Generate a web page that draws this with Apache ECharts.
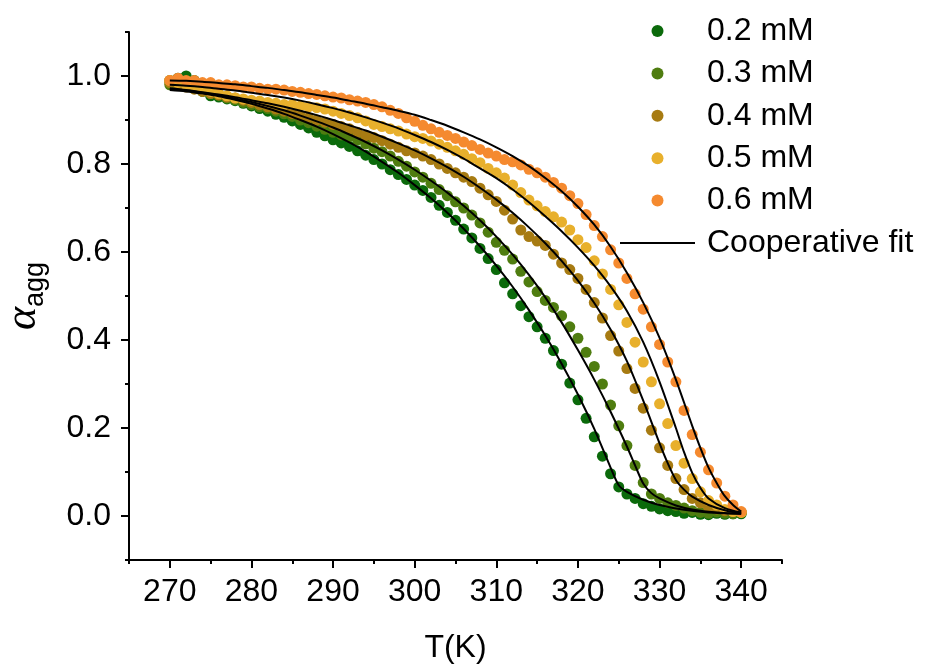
<!DOCTYPE html>
<html>
<head>
<meta charset="utf-8">
<script src="https://cdn.jsdelivr.net/npm/echarts@6.0.0/dist/echarts.min.js"></script>
<style>
  html, body { margin: 0; padding: 0; background: #fff; }
  #chart { width: 934px; height: 664px; }
</style>
</head>
<body>
<div id="chart"></div>
<script>
// temperatures (K) of the measured points
var temps = [
  270, 271, 272, 273, 274, 275, 276, 277, 278, 279,
  280, 281, 282, 283, 284, 285, 286, 287, 288, 289,
  290, 291, 292, 293, 294, 295, 296, 297, 298, 299,
  300, 301, 302, 303, 304, 305, 306, 307, 308, 309,
  310, 311, 312, 313, 314, 315, 316, 317, 318, 319,
  320, 321, 322, 323, 324, 325, 326, 327, 328, 329,
  330, 331, 332, 333, 334, 335, 336, 337, 338, 339,
  340
];

// alpha_agg, one array per concentration
var a02 = [
  0.990, 0.995, 1.000, 0.990, 0.965, 0.955, 0.952, 0.948, 0.944, 0.938,
  0.932, 0.926, 0.920, 0.913, 0.906, 0.898, 0.890, 0.882, 0.872, 0.864,
  0.855, 0.848, 0.840, 0.830, 0.820, 0.810, 0.800, 0.787, 0.776, 0.765,
  0.752, 0.740, 0.724, 0.706, 0.690, 0.672, 0.652, 0.632, 0.608, 0.585,
  0.560, 0.530, 0.505, 0.478, 0.453, 0.430, 0.404, 0.376, 0.345, 0.302,
  0.264, 0.222, 0.180, 0.136, 0.096, 0.066, 0.050, 0.040, 0.028, 0.022,
  0.016, 0.012, 0.010, 0.006, 0.008, 0.004, 0.003, 0.006, 0.004, 0.005,
  0.005
];
var a03 = [
  0.980, 0.990, 0.985, 0.975, 0.966, 0.960, 0.956, 0.950, 0.946, 0.940,
  0.935, 0.930, 0.926, 0.920, 0.914, 0.908, 0.900, 0.894, 0.886, 0.879,
  0.872, 0.866, 0.862, 0.855, 0.846, 0.836, 0.828, 0.818, 0.806, 0.795,
  0.782, 0.770, 0.756, 0.742, 0.728, 0.714, 0.700, 0.684, 0.666, 0.645,
  0.622, 0.604, 0.584, 0.556, 0.532, 0.510, 0.490, 0.474, 0.455, 0.430,
  0.404, 0.372, 0.340, 0.300, 0.252, 0.205, 0.160, 0.115, 0.076, 0.050,
  0.040, 0.030, 0.024, 0.018, 0.012, 0.008, 0.006, 0.009, 0.006, 0.005,
  0.008
];
var a04 = [
  0.985, 0.980, 0.975, 0.970, 0.965, 0.960, 0.957, 0.952, 0.950, 0.945,
  0.940, 0.935, 0.930, 0.925, 0.920, 0.915, 0.910, 0.905, 0.900, 0.895,
  0.890, 0.885, 0.880, 0.872, 0.865, 0.860, 0.853, 0.845, 0.838, 0.830,
  0.825, 0.818, 0.810, 0.800, 0.790, 0.780, 0.770, 0.760, 0.745, 0.730,
  0.715, 0.695, 0.675, 0.650, 0.635, 0.625, 0.615, 0.595, 0.575, 0.560,
  0.540, 0.515, 0.485, 0.450, 0.410, 0.375, 0.335, 0.290, 0.245, 0.195,
  0.155, 0.115, 0.085, 0.060, 0.040, 0.030, 0.020, 0.016, 0.012, 0.010,
  0.008
];
var a05 = [
  0.990, 0.985, 0.980, 0.975, 0.970, 0.965, 0.960, 0.955, 0.950, 0.948,
  0.945, 0.943, 0.940, 0.938, 0.935, 0.935, 0.932, 0.930, 0.928, 0.925,
  0.920, 0.915, 0.910, 0.905, 0.898, 0.890, 0.885, 0.880, 0.875, 0.868,
  0.862, 0.858, 0.852, 0.845, 0.838, 0.830, 0.822, 0.812, 0.803, 0.790,
  0.780, 0.768, 0.752, 0.735, 0.718, 0.705, 0.692, 0.680, 0.668, 0.650,
  0.628, 0.610, 0.580, 0.550, 0.515, 0.480, 0.440, 0.395, 0.350, 0.305,
  0.255, 0.210, 0.160, 0.120, 0.085, 0.055, 0.035, 0.025, 0.015, 0.010,
  0.008
];
var a06 = [
  0.990, 0.995, 0.990, 0.990, 0.985, 0.985, 0.980, 0.980, 0.978, 0.975,
  0.975, 0.972, 0.970, 0.970, 0.968, 0.965, 0.963, 0.960, 0.958, 0.955,
  0.952, 0.950, 0.946, 0.943, 0.940, 0.935, 0.930, 0.922, 0.915, 0.905,
  0.897, 0.888, 0.880, 0.872, 0.865, 0.858, 0.850, 0.842, 0.833, 0.825,
  0.818, 0.810, 0.805, 0.798, 0.788, 0.780, 0.770, 0.758, 0.745, 0.728,
  0.710, 0.685, 0.660, 0.635, 0.605, 0.575, 0.540, 0.505, 0.470, 0.430,
  0.390, 0.350, 0.305, 0.240, 0.185, 0.145, 0.105, 0.075, 0.045, 0.025,
  0.010
];

// cooperative fit curves
var fitT02 = [270, 272, 274, 276, 278, 280, 282, 284, 286, 288, 290, 292, 294, 296, 298, 300, 302, 304, 306, 308,
              310, 312, 314, 316, 318, 320, 322, 324, 325, 326, 328, 330, 333, 336, 340];
var fit02  = [0.968, 0.965, 0.960, 0.954, 0.946, 0.937, 0.926, 0.914, 0.900, 0.885, 0.868, 0.849, 0.828, 0.805, 0.780,
              0.752, 0.722, 0.689, 0.653, 0.613, 0.569, 0.521, 0.468, 0.410, 0.346, 0.276, 0.198, 0.110, 0.070, 0.055,
              0.037, 0.025, 0.014, 0.008, 0.005];
var fitT03 = [270, 272, 274, 276, 278, 280, 282, 284, 286, 288, 290, 292, 294, 296, 298, 300, 302, 304, 306, 308,
              310, 312, 314, 316, 318, 320, 322, 324, 326, 327, 328, 329, 330, 332, 334, 337, 340];
var fit03  = [0.970, 0.967, 0.962, 0.956, 0.949, 0.941, 0.932, 0.922, 0.910, 0.897, 0.883, 0.867, 0.850, 0.831, 0.810,
              0.787, 0.762, 0.735, 0.705, 0.672, 0.635, 0.594, 0.548, 0.497, 0.440, 0.377, 0.310, 0.237, 0.158, 0.115,
              0.074, 0.052, 0.040, 0.024, 0.015, 0.008, 0.005];
var fitT04 = [270, 272, 274, 276, 278, 280, 282, 284, 286, 288, 290, 292, 294, 296, 298, 300, 302, 304, 306, 308,
              310, 312, 314, 316, 318, 320, 322, 324, 326, 328, 330, 331, 332, 333, 334, 336, 338, 340];
var fit04  = [0.972, 0.968, 0.963, 0.958, 0.952, 0.945, 0.938, 0.930, 0.921, 0.911, 0.900, 0.888, 0.876, 0.862, 0.847,
              0.831, 0.813, 0.793, 0.771, 0.746, 0.719, 0.689, 0.656, 0.620, 0.580, 0.535, 0.484, 0.424, 0.352, 0.262,
              0.165, 0.120, 0.082, 0.060, 0.044, 0.025, 0.013, 0.006];
var fitT05 = [270, 272, 274, 276, 278, 280, 282, 284, 286, 288, 290, 292, 294, 296, 298, 300, 302, 304, 306, 308,
              310, 312, 314, 316, 318, 320, 322, 324, 326, 328, 330, 332, 333, 334, 335, 336, 338, 340];
var fit05  = [0.980, 0.978, 0.975, 0.971, 0.967, 0.962, 0.957, 0.951, 0.944, 0.936, 0.927, 0.917, 0.906, 0.894, 0.881,
              0.866, 0.850, 0.832, 0.812, 0.790, 0.768, 0.742, 0.713, 0.681, 0.647, 0.610, 0.569, 0.522, 0.466, 0.395,
              0.305, 0.200, 0.145, 0.098, 0.064, 0.040, 0.018, 0.008];
var fitT06 = [270, 272, 274, 276, 278, 280, 282, 284, 286, 288, 290, 292, 294, 296, 298, 300, 302, 304, 306, 308,
              310, 312, 314, 316, 318, 320, 322, 324, 326, 328, 330, 332, 334, 335, 336, 337, 338, 339, 340];
var fit06  = [0.990, 0.989, 0.987, 0.984, 0.981, 0.977, 0.973, 0.968, 0.963, 0.957, 0.951, 0.944, 0.937, 0.929, 0.921,
              0.912, 0.900, 0.887, 0.872, 0.856, 0.838, 0.818, 0.795, 0.768, 0.738, 0.703, 0.662, 0.612, 0.553, 0.485,
              0.405, 0.310, 0.205, 0.155, 0.110, 0.075, 0.045, 0.025, 0.010];

// axis ticks
var xMajor = [270, 280, 290, 300, 310, 320, 330, 340];
var yMajor = [0, 0.2, 0.4, 0.6, 0.8, 1.0];

var names = ['0.2 mM', '0.3 mM', '0.4 mM', '0.5 mM', '0.6 mM'];
var colors = ['#0b6a0b', '#4f7d10', '#a77b12', '#e8b02c', '#f58a2f'];
var sets = [a02, a03, a04, a05, a06];
var fits = [[fitT02, fit02], [fitT03, fit03], [fitT04, fit04], [fitT05, fit05], [fitT06, fit06]];

var FONT = '"Liberation Sans", Arial, sans-serif';

function pairs(xs, ys) {
  return xs.map(function (x, i) { return [x, ys[i]]; });
}

var series = [];
sets.forEach(function (ys, i) {
  series.push({
    type: 'scatter',
    name: names[i],
    data: pairs(temps, ys),
    symbolSize: 11,
    itemStyle: { color: colors[i], opacity: 1 },
    z: 2
  });
});
fits.forEach(function (f) {
  series.push({
    type: 'line',
    name: 'Cooperative fit',
    data: pairs(f[0], f[1]),
    symbol: 'none',
    smooth: 0.3,
    lineStyle: { color: '#000', width: 2 },
    itemStyle: { color: '#000' },
    z: 3
  });
});

var legendData = names.map(function (n) { return { name: n, icon: 'circle' }; });
legendData.push({ name: 'Cooperative fit', icon: 'path://M0,0 L75,0 L75,2 L0,2 Z', itemStyle: { color: '#000' } });

var myChart = echarts.init(document.getElementById('chart'));
myChart.setOption({
  animation: false,
  backgroundColor: '#fff',
  grid: { left: 129, right: 152, top: 32, bottom: 104, outerBoundsMode: 'none' },
  legend: {
    data: legendData,
    orient: 'vertical',
    left: 620,
    top: 15,
    padding: 0,
    itemWidth: 75,
    itemHeight: 12,
    itemGap: 10.4,
    selectedMode: false,
    textStyle: { fontSize: 32, lineHeight: 32, color: '#000', fontFamily: FONT, padding: [0, 0, 0, 7] }
  },
  xAxis: [
    {
      type: 'value', min: 265, max: 345, position: 'bottom',
      name: 'T(K)', nameLocation: 'middle', nameGap: 72,
      nameTextStyle: { fontSize: 32, color: '#000', fontFamily: FONT },
      axisLine: { show: true, onZero: false, lineStyle: { color: '#000', width: 2 } },
      axisTick: { show: true, customValues: xMajor, length: 8, lineStyle: { color: '#000', width: 2 } },
      axisLabel: { customValues: xMajor, fontSize: 32, color: '#000', fontFamily: FONT, margin: 16 },
      splitLine: { show: false }
    },
    {
      type: 'value', min: 265, max: 345, interval: 5, position: 'bottom',
      axisLine: { show: false, onZero: false },
      axisTick: { show: true, length: 4, lineStyle: { color: '#000', width: 2 } },
      axisLabel: { show: false },
      splitLine: { show: false }
    }
  ],
  yAxis: [
    {
      type: 'value', min: -0.1, max: 1.1, position: 'left',
      name: '{a|α}{b|agg}', nameLocation: 'middle', nameGap: 82, nameRotate: 90,
      nameTextStyle: {
        color: '#000',
        rich: {
          a: { fontSize: 44, fontStyle: 'italic', fontFamily: '"Liberation Serif", serif', color: '#000', verticalAlign: 'top', lineHeight: 46 },
          b: { fontSize: 27, fontFamily: FONT, color: '#000', verticalAlign: 'top', padding: [21, 0, 0, 0], lineHeight: 28 }
        }
      },
      axisLine: { show: true, onZero: false, lineStyle: { color: '#000', width: 2 } },
      axisTick: { show: true, customValues: yMajor, length: 8, lineStyle: { color: '#000', width: 2 } },
      axisLabel: {
        customValues: yMajor, fontSize: 32, color: '#000', fontFamily: FONT, margin: 18,
        formatter: function (v) { return v.toFixed(1); }
      },
      splitLine: { show: false }
    },
    {
      type: 'value', min: -0.1, max: 1.1, interval: 0.1, position: 'left',
      axisLine: { show: false, onZero: false },
      axisTick: { show: true, length: 4, lineStyle: { color: '#000', width: 2 } },
      axisLabel: { show: false },
      splitLine: { show: false }
    }
  ],
  series: series
});
</script>
</body>
</html>
